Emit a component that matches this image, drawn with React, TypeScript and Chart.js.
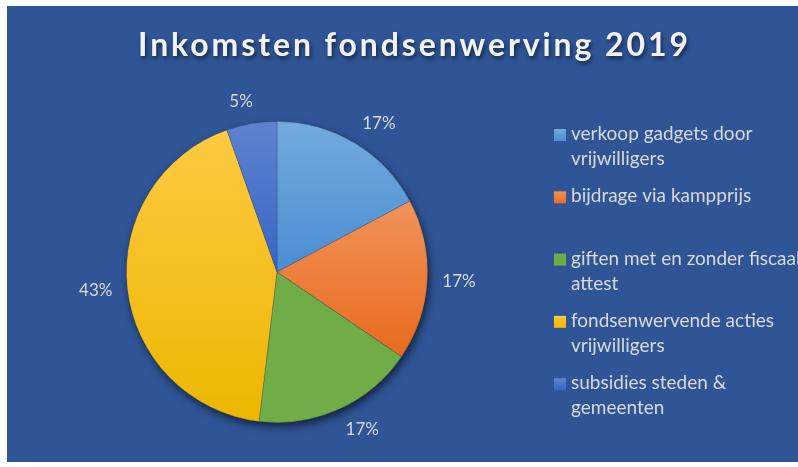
import React, { useEffect, useRef } from "react";
import { Chart, registerables } from "chart.js";

Chart.register(...registerables);

// ---- data ----
const chartTitle = "Inkomsten fondsenwerving 2019";
const categories: string[][] = [
  ["verkoop gadgets door", "vrijwilligers"],
  ["bijdrage via kampprijs"],
  ["giften met en zonder fiscaal", "attest"],
  ["fondsenwervende acties", "vrijwilligers"],
  ["subsidies steden &", "gemeenten"],
];
const shares = [17.2, 17.3, 17.4, 42.7, 5.4];

// ---- styles ----
const topColors = ["#74ABDF", "#F2925A", "#70AD47", "#FFC942", "#5F82CE"];
const bottomColors = ["#4A8DD2", "#E86B1C", "#70AD47", "#ECB700", "#3566C6"];
const BG = "#2F5597";
const TEXT = "#D9D9D9";
const FONT = "Lato, 'Open Sans', sans-serif";

function sectorYRange(cy: number, r: number, a0: number, a1: number) {
  const ys = [cy, cy + r * Math.sin(a0), cy + r * Math.sin(a1)];
  for (let k = -4; k <= 8; k++) {
    const a = Math.PI / 2 + k * Math.PI;
    if (a >= a0 && a <= a1) ys.push(cy + r * Math.sin(a));
  }
  return [Math.min(...ys), Math.max(...ys)];
}

function sliceGradient(chart: any, i: number) {
  const area = chart.chartArea;
  if (!area) return bottomColors[i];
  const ctx = chart.ctx as CanvasRenderingContext2D;
  const cy = (area.top + area.bottom) / 2;
  const r = Math.min(area.right - area.left, area.bottom - area.top) / 2;
  const total = shares.reduce((a, b) => a + b, 0);
  let cum = 0;
  for (let k = 0; k < i; k++) cum += shares[k];
  const a0 = -Math.PI / 2 + (cum / total) * Math.PI * 2;
  const a1 = a0 + (shares[i] / total) * Math.PI * 2;
  const [y0, y1] = sectorYRange(cy, r, a0, a1);
  const g = ctx.createLinearGradient(0, y0, 0, y1);
  g.addColorStop(0, topColors[i]);
  g.addColorStop(1, bottomColors[i]);
  return g;
}

const decorPlugin = {
  id: "decor",
  beforeDraw(chart: any) {
    const ctx = chart.ctx as CanvasRenderingContext2D;
    ctx.save();
    ctx.fillStyle = BG;
    ctx.fillRect(0, 0, chart.width, chart.height);
    ctx.restore();
  },
  beforeDatasetsDraw(chart: any) {
    const arc = chart.getDatasetMeta(0).data[0];
    if (!arc) return;
    const ctx = chart.ctx as CanvasRenderingContext2D;
    ctx.save();
    ctx.shadowColor = "rgba(0,0,0,0.6)";
    ctx.shadowBlur = 9;
    ctx.shadowOffsetX = 2;
    ctx.shadowOffsetY = 4;
    ctx.fillStyle = "#1f3d70";
    ctx.beginPath();
    ctx.arc(arc.x, arc.y, arc.outerRadius, 0, Math.PI * 2);
    ctx.fill();
    ctx.restore();
  },
  afterDatasetsDraw(chart: any) {
    const ctx = chart.ctx as CanvasRenderingContext2D;
    const meta = chart.getDatasetMeta(0);
    const data = chart.data.datasets[0].data as number[];
    const total = data.reduce((a, b) => a + b, 0);
    ctx.save();
    ctx.font = `17px ${FONT}`;
    ctx.fillStyle = TEXT;
    ctx.textAlign = "center";
    ctx.textBaseline = "middle";
    meta.data.forEach((el: any, i: number) => {
      const mid = (el.startAngle + el.endAngle) / 2;
      const dx = Math.cos(mid);
      const dy = Math.sin(mid);
      const txt = Math.round((data[i] / total) * 100) + "%";
      const w = ctx.measureText(txt).width;
      const h = 15;
      const d = el.outerRadius + 15;
      const sx = Math.max(-1, Math.min(1, dx * 4));
      const x = el.x + d * dx + (w / 2) * sx;
      const y = el.y + d * dy + (h / 2) * dy;
      ctx.fillText(txt, x, y);
    });
    ctx.restore();
  },
  afterDraw(chart: any) {
    const ctx = chart.ctx as CanvasRenderingContext2D;
    // title
    ctx.save();
    ctx.font = `bold 32px ${FONT}`;
    (ctx as any).letterSpacing = "0px";
    const raw = ctx.measureText(chartTitle).width;
    const targetW = 550;
    const ls = (targetW - raw) / (chartTitle.length - 1);
    (ctx as any).letterSpacing = `${ls}px`;
    ctx.shadowColor = "rgba(0,0,0,0.55)";
    ctx.shadowBlur = 4;
    ctx.shadowOffsetX = 1.5;
    ctx.shadowOffsetY = 2.5;
    ctx.fillStyle = "#F2F2F2";
    ctx.textAlign = "left";
    ctx.textBaseline = "alphabetic";
    ctx.fillText(chartTitle, 131, 50);
    ctx.restore();

    // legend
    const labels = chart.data.labels as string[][];
    ctx.save();
    ctx.font = `19px ${FONT}`;
    ctx.textAlign = "left";
    ctx.textBaseline = "alphabetic";
    labels.forEach((lines, i) => {
      const cy = 129 + i * 62.3;
      const g = ctx.createLinearGradient(0, cy - 6, 0, cy + 6);
      g.addColorStop(0, topColors[i]);
      g.addColorStop(1, bottomColors[i]);
      ctx.fillStyle = g;
      ctx.fillRect(547, cy - 6, 12, 12);
      ctx.fillStyle = TEXT;
      lines.forEach((line, j) => {
        ctx.fillText(line, 564, cy + 5 + j * 25);
      });
    });
    ctx.restore();
  },
};

export default function App() {
  const ref = useRef<HTMLCanvasElement | null>(null);
  useEffect(() => {
    if (!ref.current) return;
    const chart = new Chart(ref.current, {
      type: "pie",
      data: {
        labels: categories as any,
        datasets: [
          {
            data: shares,
            backgroundColor: (c: any) => sliceGradient(c.chart, c.dataIndex),
            borderColor: "rgba(40,60,90,0.35)",
            borderWidth: 0.8,
          },
        ],
      },
      options: {
        responsive: false,
        animation: false,
        layout: { padding: { left: 119, right: 370, top: 115, bottom: 39 } },
        plugins: {
          legend: { display: false },
          title: { display: false },
          tooltip: { enabled: false },
        },
      },
      plugins: [decorPlugin],
    });
    return () => chart.destroy();
  }, []);
  return (
    <div style={{ position: "absolute", left: 7, top: 6, width: 791, height: 456 }}>
      <canvas ref={ref} width={791} height={456} style={{ display: "block" }} />
    </div>
  );
}
